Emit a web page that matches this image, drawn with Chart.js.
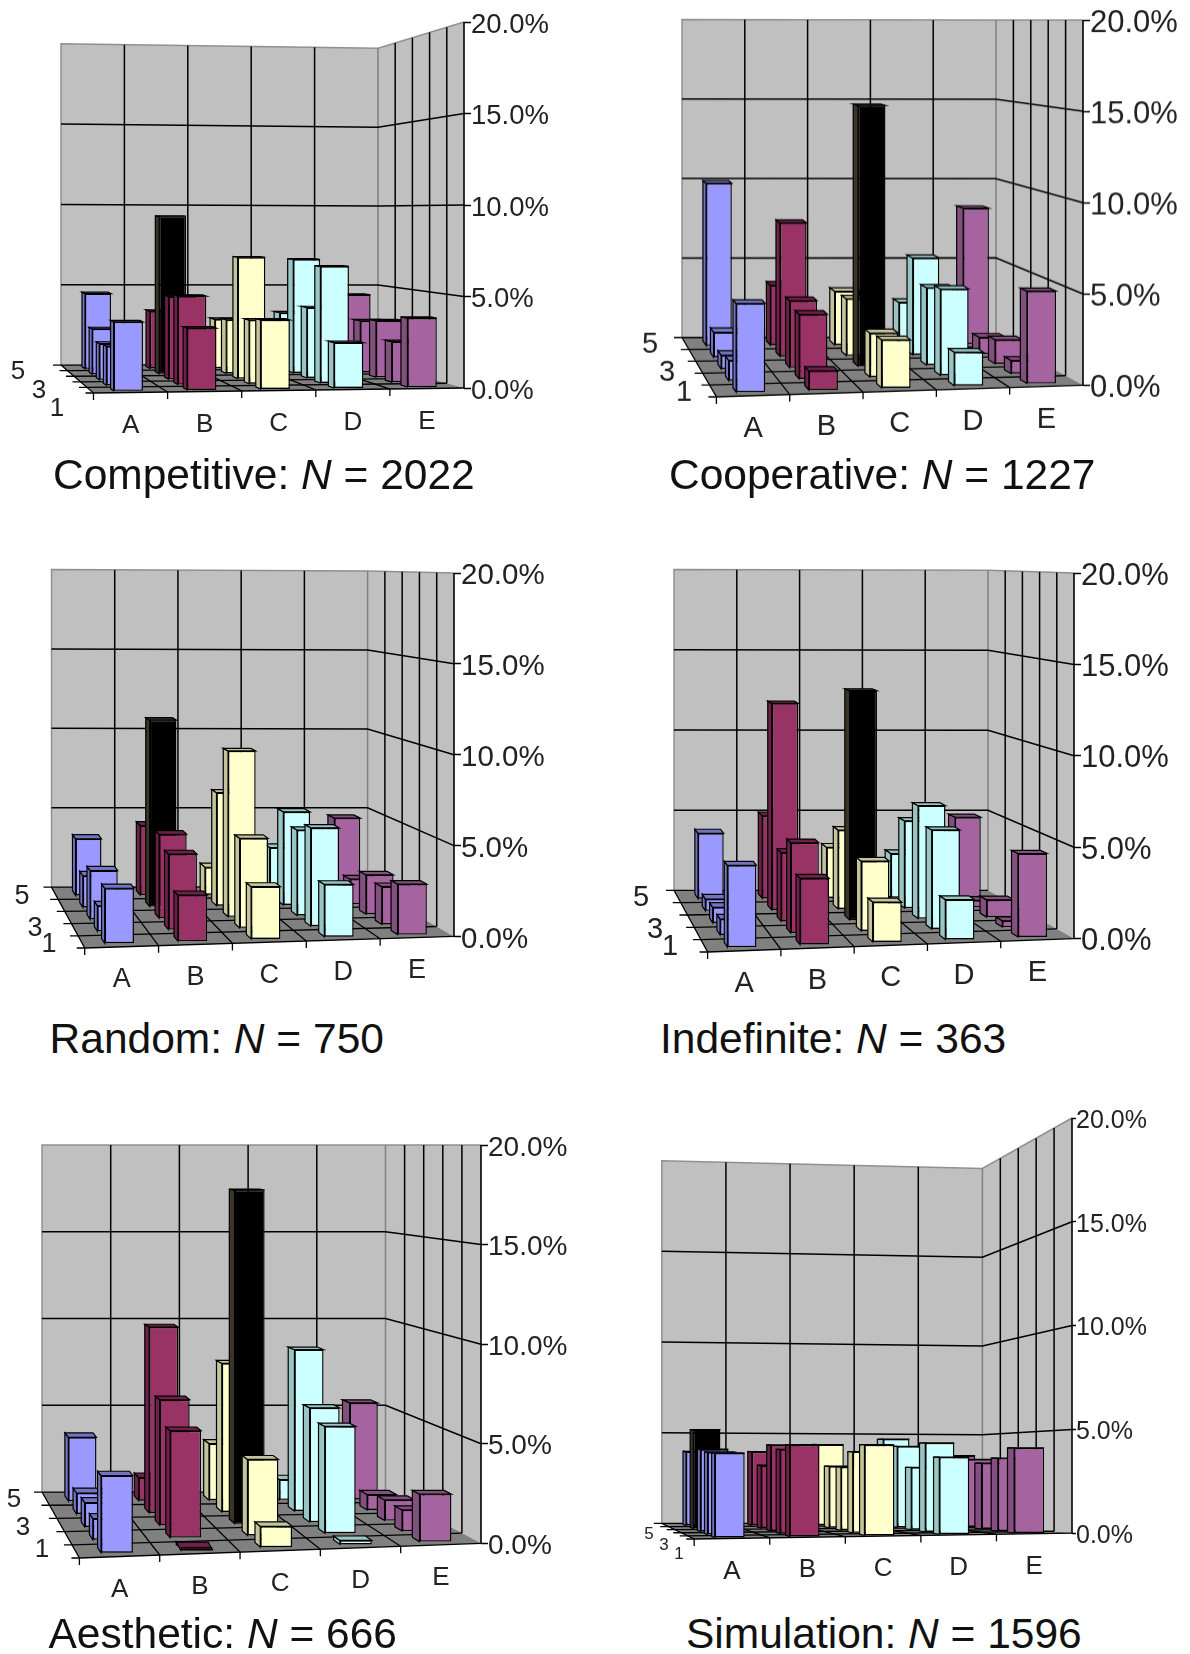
<!DOCTYPE html>
<html>
<head>
<meta charset="utf-8">
<title>Six 3D bar charts</title>
<script src="https://cdn.jsdelivr.net/npm/chart.js@4"></script>
<style>
  html, body { margin: 0; padding: 0; background: #fff; }
  #page { position: relative; width: 1190px; height: 1654px; overflow: hidden; }
  canvas { position: absolute; }
  .title { position: absolute; font: 42.5px/1 "Liberation Sans", Arial, sans-serif; color: #111; white-space: nowrap; }
</style>
</head>
<body>
<div id="page"></div>
<script>
const categories = ['A', 'B', 'C', 'D', 'E'];
const depths = [1, 2, 3, 4, 5];
const tickValues = [0, 5, 10, 15, 20];
const seriesColors = ['#9999ff', '#993366', '#ffffcc', '#ccffff', '#a5649f'];
const sideColors = ['#7373bf', '#6e2148', '#c4c49c', '#99c4c4', '#824f7e'];

// percent per category, depths 1..5 front to back
const competitive = [[3.8, 2.2, 2.1, 2.7, 4.6], [3.4, 5.0, 4.8, 9.4, 3.5], [3.8, 3.6, 7.05, 3.2, 3.0], [2.5, 6.6, 4.1, 6.8, 3.4], [3.8, 2.3, 3.3, 3.1, 4.5]];
const cooperative = [[4.9, 1.15, 0.8, 1.5, 10.0], [1.05, 3.65, 3.9, 8.0, 3.7], [2.65, 2.5, 15.2, 3.4, 3.3], [1.85, 4.9, 4.5, 5.8, 2.6], [5.1, 0.75, 1.4, 1.0, 8.4]];
const random = [[3.05, 1.45, 2.85, 1.9, 3.5], [2.55, 4.3, 4.9, 11.2, 4.3], [2.9, 5.1, 9.7, 6.8, 1.7], [2.9, 5.6, 5.0, 5.6, 2.9], [2.8, 2.15, 2.3, 1.5, 4.7]];
const indefinite = [[4.5, 0.9, 0.9, 0.7, 4.0], [3.65, 5.1, 4.0, 12.3, 5.05], [2.2, 3.95, 13.3, 4.7, 3.1], [2.2, 5.6, 6.55, 5.2, 2.7], [4.6, 0.35, 1.0, 0.4, 4.9]];
const aesthetic = [[3.9, 1.1, 1.3, 1.15, 3.6], [0.15, 5.55, 6.7, 10.2, 1.3], [1.05, 3.95, 17.8, 8.15, 3.2], [0.2, 5.55, 6.1, 8.85, 1.15], [2.4, 1.1, 1.1, 0.85, 5.45]];
const simulation = [[4.1, 4.1, 4.2, 5.2, 4.0], [4.45, 4.2, 4.4, 3.3, 4.0], [4.4, 4.05, 3.25, 3.25, 4.4], [3.75, 4.45, 3.2, 4.3, 4.7], [4.15, 3.65, 3.4, 3.6, 3.8]];

// view of each panel: floor corners and wall tops, page pixels
const panels = [
  { name: 'Competitive', n: 2022, values: competitive, black: [1, 4], left: 0, axis: 464, y0: 388, y20: 21.5, blx: 61, bly: 365, brx: 378, bry: 364, flx: 93.5, fly: 393, topL: 43.3, topR: 47.7, font: 27.5, tickLen: 7, catFont: 26, depthFont: 26, titleX: 53, titleY: 490, depthXY: [[57, 408], [39, 390], [18, 371]] },
  { name: 'Cooperative', n: 1227, values: cooperative, black: [2, 3], left: 600, axis: 1083, y0: 385, y20: 20, blx: 682, bly: 337.3, brx: 996, bry: 337, flx: 716.4, fly: 396.7, topL: 19.5, topR: 20, font: 31, tickLen: 7, catFont: 29, depthFont: 29, titleX: 669, titleY: 490, depthXY: [[684, 392], [667, 372], [650, 344]] },
  { name: 'Random', n: 750, values: random, black: [1, 4], left: 0, axis: 454, y0: 936.7, y20: 572.7, blx: 51.5, bly: 887.3, brx: 367.6, bry: 887, flx: 84.7, fly: 948.3, topL: 569.3, topR: 570.7, font: 29.5, tickLen: 7, catFont: 27, depthFont: 27, titleX: 49.6, titleY: 1054, depthXY: [[49, 944], [35, 928], [22, 896]] },
  { name: 'Indefinite', n: 363, values: indefinite, black: [2, 3], left: 600, axis: 1074, y0: 938.3, y20: 572.7, blx: 674, bly: 890, brx: 988, bry: 890, flx: 707.6, fly: 951.7, topL: 569.3, topR: 570, font: 31, tickLen: 7, catFont: 29, depthFont: 29, titleX: 660, titleY: 1054, depthXY: [[670, 947], [655, 930], [641, 898]] },
  { name: 'Aesthetic', n: 666, values: aesthetic, black: [2, 3], left: 0, axis: 481, y0: 1543.3, y20: 1144.7, blx: 42, bly: 1492, brx: 385.5, bry: 1492, flx: 79.4, fly: 1558, topL: 1144.7, topR: 1144.7, font: 28, tickLen: 7, catFont: 26, depthFont: 26, titleX: 48.5, titleY: 1649, depthXY: [[42, 1550], [23, 1528], [14, 1500]] },
  { name: 'Simulation', n: 1596, values: simulation, black: [0, 4], left: 600, axis: 1072, y0: 1533, y20: 1117.6, blx: 661.8, bly: 1523.2, brx: 982.4, bry: 1523.2, flx: 694.2, fly: 1538.8, topL: 1160.3, topR: 1168, font: 25, tickLen: 4, catFont: 26, depthFont: 17, titleX: 686, titleY: 1649, depthXY: [[679, 1554], [664, 1545], [649, 1534]] }
];

const BAR_WIDTH = 0.4;    // of a cell
const BAR_DEPTH = 0.08;   // of the floor depth
const AXIS_WIDTH = 106;
const PAD_TOP = 20;
const PAD_BOTTOM = 52;
const FONT = '"Liberation Sans", Arial, sans-serif';

const lerp = (a, b, t) => a + (b - a) * t;

// u: column units 0..5, v: 0 back .. 1 front, val: percent. Result in scale units.
function project(p, u, v, val) {
  const t = u / 5;
  const colW = (p.axis - p.flx) / 5;
  const pctH = (p.y0 - p.y20) / 20;
  const x = lerp(lerp(p.blx, p.brx, t), lerp(p.flx, p.axis, t), v);
  const floorY = lerp(lerp(p.bly, p.bry, t), lerp(p.fly, p.y0, t), v);
  const backK = lerp(p.bly - p.topL, p.bry - p.topR, t) / 20;
  const k = lerp(backK, pctH, v);
  return { x: (x - p.flx) / colW, y: (p.y0 - (floorY - k * val)) / pctH };
}

const rowFront = d => (5 - d + 0.5) / 5 + BAR_DEPTH / 2;
const rowBack = d => (5 - d + 0.5) / 5 - BAR_DEPTH / 2;

function buildDataset(p, d) {
  const v = rowFront(d);
  const cellW = lerp(p.brx - p.blx, p.axis - p.flx, v) / 5;
  const vals = p.values.map(col => col[d - 1]);
  return {
    label: String(d),
    data: vals.map((val, c) => {
      const base = project(p, c + 0.5, v, 0);
      const top = project(p, c + 0.5, v, val);
      return { x: base.x, y: [base.y, top.y] };
    }),
    backgroundColor: vals.map((val, c) => (p.black[0] === c && p.black[1] === d) ? '#000' : seriesColors[c]),
    borderColor: '#000',
    borderWidth: 1.4,
    borderSkipped: false,
    grouped: false,
    barPercentage: 100,
    maxBarThickness: cellW * BAR_WIDTH
  };
}

function viewPlugin(p) {
  return {
    id: 'view3d',
    beforeDatasetsDraw(chart) {
      const { ctx, scales } = chart;
      const pt = (u, v, val) => {
        const q = project(p, u, v, val);
        return [scales.x.getPixelForValue(q.x), scales.y.getPixelForValue(q.y)];
      };
      const poly = (pts, fill) => {
        ctx.beginPath();
        pts.forEach((q, i) => i ? ctx.lineTo(q[0], q[1]) : ctx.moveTo(q[0], q[1]));
        ctx.closePath();
        ctx.fillStyle = fill;
        ctx.fill();
      };
      const line = (pts, color, w) => {
        ctx.beginPath();
        pts.forEach((q, i) => i ? ctx.lineTo(q[0], q[1]) : ctx.moveTo(q[0], q[1]));
        ctx.strokeStyle = color;
        ctx.lineWidth = w;
        ctx.stroke();
      };
      ctx.save();
      // walls and floor
      poly([pt(0, 0, 0), pt(5, 0, 0), pt(5, 0, 20), pt(0, 0, 20)], '#c0c0c0');
      poly([pt(5, 0, 0), pt(5, 1, 0), pt(5, 1, 20), pt(5, 0, 20)], '#c0c0c0');
      poly([pt(0, 0, 0), pt(5, 0, 0), pt(5, 1, 0), pt(0, 1, 0)], '#808080');
      line([pt(0, 0, 0), pt(0, 0, 20), pt(5, 0, 20), pt(5, 1, 20)], '#909090', 1.5);
      line([pt(5, 0, 0), pt(5, 0, 20)], '#808080', 1.5);
      // wall grid
      for (const val of [5, 10, 15]) line([pt(0, 0, val), pt(5, 0, val), pt(5, 1, val)], '#000', 1.5);
      for (let i = 1; i < 5; i++) line([pt(i, 0, 0), pt(i, 0, 20)], '#000', 1.5);
      for (let j = 1; j < 5; j++) line([pt(5, j / 5, 0), pt(5, j / 5, 20)], '#000', 1.5);
      // floor grid with its ticks
      for (let i = 0; i < 5; i++) {
        const f = pt(i, 1, 0);
        line([pt(i, 0, 0), f, [f[0], f[1] + 7]], '#000', 1.3);
      }
      for (let j = 0; j <= 5; j++) {
        const f = pt(0, j / 5, 0);
        line([[f[0] - 8, f[1]], f, pt(5, j / 5, 0)], '#000', 1.3);
      }
      line([pt(5, 1, 0), pt(5, 1, 20)], '#000', 1.6);
      // labels
      ctx.fillStyle = '#222';
      ctx.textAlign = 'center';
      ctx.textBaseline = 'middle';
      ctx.font = p.catFont + 'px ' + FONT;
      categories.forEach((c, i) => {
        const f = pt(i + 0.5, 1, 0);
        ctx.fillText(c, f[0], f[1] + 33);
      });
      ctx.font = p.depthFont + 'px ' + FONT;
      ['1', '3', '5'].forEach((t, i) => {
        ctx.fillText(t, p.depthXY[i][0] - p.left, p.depthXY[i][1] - (p.y20 - PAD_TOP));
      });
      ctx.restore();
    },
    beforeDatasetDraw(chart, args) {
      const { ctx, scales } = chart;
      const d = depths[args.index];
      ctx.save();
      ctx.strokeStyle = '#000';
      ctx.lineWidth = 1.2;
      args.meta.data.forEach((bar, c) => {
        const val = p.values[c][d - 1];
        const isBlack = p.black[0] === c && p.black[1] === d;
        const { x, y, base, width } = bar.getProps(['x', 'y', 'base', 'width'], true);
        const xl = x - width / 2, xr = x + width / 2;
        const f0 = project(p, c + 0.5, rowFront(d), 0);
        const b0 = project(p, c + 0.5, rowBack(d), 0);
        const bt = project(p, c + 0.5, rowBack(d), val);
        const dx = scales.x.getPixelForValue(b0.x) - scales.x.getPixelForValue(f0.x);
        const backBase = scales.y.getPixelForValue(b0.y);
        const backTop = scales.y.getPixelForValue(bt.y);
        const quad = pts => {
          ctx.beginPath();
          pts.forEach((q, i) => i ? ctx.lineTo(q[0], q[1]) : ctx.moveTo(q[0], q[1]));
          ctx.closePath();
          ctx.fillStyle = isBlack ? '#3a3528' : sideColors[c];
          ctx.fill();
          ctx.stroke();
        };
        quad([[xl, base], [xl, y], [xl + dx, backTop], [xl + dx, backBase]]);
        quad([[xl, y], [xr, y], [xr + dx, backTop], [xl + dx, backTop]]);
      });
      ctx.restore();
    }
  };
}

const page = document.getElementById('page');

panels.forEach(p => {
  const top = p.y20 - PAD_TOP;
  const plotBottom = p.fly + 10;
  const width = p.axis - p.left + AXIS_WIDTH;
  const height = plotBottom - top + PAD_BOTTOM;
  const colW = (p.axis - p.flx) / 5;
  const pctH = (p.y0 - p.y20) / 20;

  const canvas = document.createElement('canvas');
  canvas.width = width;
  canvas.height = height;
  canvas.style.left = p.left + 'px';
  canvas.style.top = top + 'px';
  canvas.style.width = width + 'px';
  canvas.style.height = height + 'px';
  page.appendChild(canvas);

  new Chart(canvas, {
    type: 'bar',
    data: { datasets: depths.map(d => buildDataset(p, d)) },
    options: {
      responsive: false,
      animation: false,
      layout: { padding: { top: PAD_TOP, bottom: PAD_BOTTOM, left: 0, right: 0 } },
      plugins: { legend: { display: false }, tooltip: { enabled: false } },
      scales: {
        x: {
          type: 'linear',
          display: false,
          offset: false,
          min: (p.left - p.flx) / colW,
          max: 5,
          grid: { display: false }
        },
        y: {
          type: 'linear',
          position: 'right',
          min: (p.y0 - plotBottom) / pctH,
          max: 20,
          border: { display: false },
          grid: { drawOnChartArea: false, drawTicks: true, tickLength: p.tickLen, tickColor: '#000', tickWidth: 1.5 },
          afterBuildTicks: scale => { scale.ticks = tickValues.map(value => ({ value })); },
          afterFit: scale => { scale.width = AXIS_WIDTH; },
          ticks: {
            autoSkip: false,
            padding: 0,
            labelOffset: 3,
            color: '#222',
            font: { family: FONT, size: p.font },
            callback: v => v.toFixed(1) + '%'
          }
        }
      }
    },
    plugins: [viewPlugin(p)]
  });

  const title = document.createElement('div');
  title.className = 'title';
  title.style.left = p.titleX + 'px';
  title.style.top = (p.titleY - 36) + 'px';
  title.innerHTML = p.name + ': <i>N</i> = ' + p.n;
  page.appendChild(title);
});
</script>
</body>
</html>
